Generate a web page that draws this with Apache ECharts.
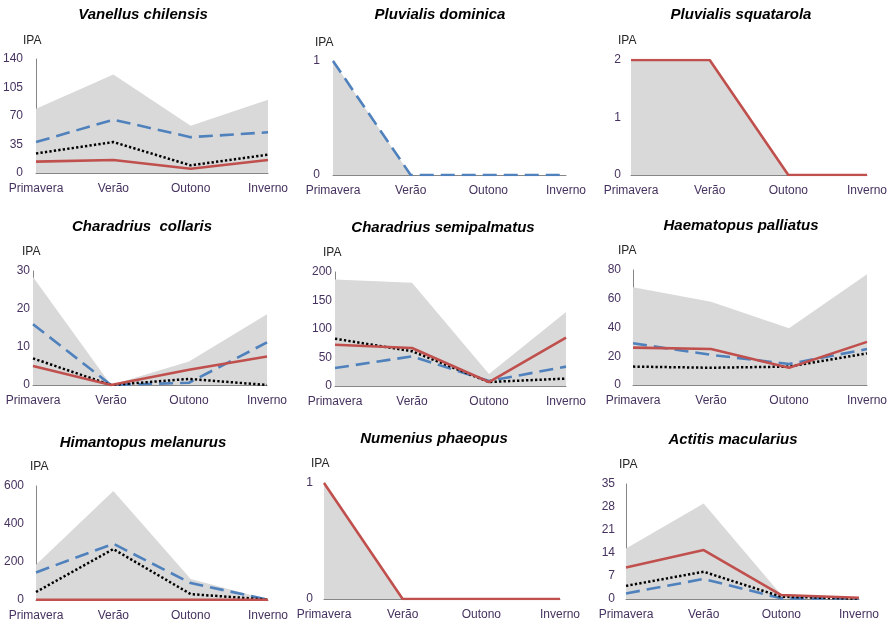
<!DOCTYPE html>
<html>
<head>
<meta charset="utf-8">
<script src="https://cdn.jsdelivr.net/npm/echarts@6/dist/echarts.min.js"></script>
<style>
html,body{margin:0;padding:0;background:#fff;}
#chart{width:891px;height:622px;}
</style>
</head>
<body>
<div id="chart"></div>
<script>
// ---- data ----
const categories = ['Primavera', 'Verão', 'Outono', 'Inverno'];

const titles = ['Vanellus chilensis', 'Pluvialis dominica', 'Pluvialis squatarola',
  'Charadrius  collaris', 'Charadrius semipalmatus', 'Haematopus palliatus',
  'Himantopus melanurus', 'Numenius phaeopus', 'Actitis macularius'];

// grey envelope (area)
const areaVanellus = [79, 121, 58, 90];
const areaDominica = [1, 0, 0, 0];
const areaSquatarola = [2, 2, 0, 0];
const areaCollaris = [28.4, 0, 6.2, 18.6];
const areaSemipalmatus = [187, 181, 21, 130];
const areaHaematopus = [68, 58, 39.5, 77];
const areaHimantopus = [185, 574, 110, 2];
const areaNumenius = [1, 0, 0, 0];
const areaActitis = [15.4, 29.1, 1.2, 0.4];

// blue dashed
const blueVanellus = [38, 65.5, 44, 50];
const blueDominica = [1, 0, 0, 0];
const blueSquatarola = null;
const blueCollaris = [16, 0, 0.6, 11.2];
const blueSemipalmatus = [31.5, 52, 8.8, 34];
const blueHaematopus = [29, 21, 14.6, 25];
const blueHimantopus = [145, 296, 89, 2];
const blueNumenius = null;
const blueActitis = [1.7, 6.1, 0.2, 0.2];

// black dotted
const blackVanellus = [24, 38, 9.4, 22.5];
const blackDominica = null;
const blackSquatarola = null;
const blackCollaris = [7, 0, 1.6, 0];
const blackSemipalmatus = [83, 61, 7, 13];
const blackHaematopus = [12.8, 12, 12.8, 22];
const blackHimantopus = [42, 268, 31, 2];
const blackNumenius = null;
const blackActitis = [4, 8.3, 0.7, 0.1];

// red solid
const redVanellus = [14, 16, 5.3, 16];
const redDominica = null;
const redSquatarola = [2, 2, 0, 0];
const redCollaris = [5, 0, 4, 7.5];
const redSemipalmatus = [72.5, 66.7, 7, 85];
const redHaematopus = [26, 25, 12, 30];
const redHimantopus = [1, 1, 1, 1];
const redNumenius = [1, 0, 0, 0];
const redActitis = [9.6, 14.9, 1.2, 0.4];

// y-axis scales (max, interval)
const yMax = [140, 1, 2, 30, 200, 80, 600, 1, 35];
const yInterval = [35, 1, 1, 10, 50, 20, 200, 1, 7];

const areas = [areaVanellus, areaDominica, areaSquatarola, areaCollaris, areaSemipalmatus, areaHaematopus, areaHimantopus, areaNumenius, areaActitis];
const blues = [blueVanellus, blueDominica, blueSquatarola, blueCollaris, blueSemipalmatus, blueHaematopus, blueHimantopus, blueNumenius, blueActitis];
const blacks = [blackVanellus, blackDominica, blackSquatarola, blackCollaris, blackSemipalmatus, blackHaematopus, blackHimantopus, blackNumenius, blackActitis];
const reds = [redVanellus, redDominica, redSquatarola, redCollaris, redSemipalmatus, redHaematopus, redHimantopus, redNumenius, redActitis];

// ---- layout ----
const grids = [
  {left: 36, top: 59, width: 232, height: 114},
  {left: 333, top: 61, width: 233, height: 114},
  {left: 631, top: 60, width: 236, height: 115},
  {left: 33, top: 271, width: 234, height: 114},
  {left: 335, top: 272, width: 231, height: 114},
  {left: 633, top: 270, width: 234, height: 115},
  {left: 36, top: 486, width: 232, height: 114},
  {left: 324, top: 483, width: 236, height: 116},
  {left: 626, top: 484, width: 233, height: 115}
];
const yLabelMargin = [13, 13, 10, 3, 3, 12, 12, 11, 11];
const titlePos = [[143, 15], [440, 15], [741, 15], [142, 227], [443, 228], [741, 226], [143, 443], [434, 439], [733, 440]];
const ipaPos = [[23, 41], [315, 43], [618, 41], [22, 252], [323, 253], [618, 251], [30, 467], [311, 464], [619, 465]];

const FONT = '"Liberation Sans", Arial, sans-serif';
const LABEL_COLOR = '#46325f';
const AXIS_COLOR = '#868686';

const option = {
  animation: false,
  backgroundColor: '#ffffff',
  grid: [], xAxis: [], yAxis: [], series: [], graphic: []
};

for (let i = 0; i < 9; i++) {
  option.grid.push(Object.assign({containLabel: false}, grids[i]));
  option.xAxis.push({
    type: 'category', gridIndex: i, data: categories, boundaryGap: false,
    axisLine: {show: true, lineStyle: {color: AXIS_COLOR, width: 1}},
    axisTick: {show: false},
    axisLabel: {color: LABEL_COLOR, fontFamily: FONT, fontSize: 12, margin: 10, interval: 0},
    splitLine: {show: false}
  });
  option.yAxis.push({
    type: 'value', gridIndex: i, min: 0, max: yMax[i], interval: yInterval[i],
    axisLine: {show: true, lineStyle: {color: AXIS_COLOR, width: 1}},
    axisTick: {show: false},
    axisLabel: {color: LABEL_COLOR, fontFamily: FONT, fontSize: 12, margin: yLabelMargin[i]},
    splitLine: {show: false}
  });
  option.series.push({
    type: 'line', xAxisIndex: i, yAxisIndex: i, data: areas[i], symbol: 'none',
    lineStyle: {width: 0, opacity: 0}, areaStyle: {color: '#d9d9d9', opacity: 1}, z: 1, silent: true
  });
  if (blues[i]) option.series.push({
    type: 'line', xAxisIndex: i, yAxisIndex: i, data: blues[i], symbol: 'none', z: 3,
    lineStyle: {color: '#4f81bd', width: 2.6, type: [14, 7]}
  });
  if (blacks[i]) option.series.push({
    type: 'line', xAxisIndex: i, yAxisIndex: i, data: blacks[i], symbol: 'none', z: 3,
    lineStyle: {color: '#000000', width: 2.5, type: [2.3, 2.2]}
  });
  if (reds[i]) option.series.push({
    type: 'line', xAxisIndex: i, yAxisIndex: i, data: reds[i], symbol: 'none', z: 3,
    lineStyle: {color: '#c0504d', width: 2.6}
  });
  option.graphic.push({
    type: 'text', x: titlePos[i][0], y: titlePos[i][1],
    style: {text: titles[i], font: 'italic bold 15px ' + FONT, fill: '#000', align: 'center', verticalAlign: 'middle'}
  });
  option.graphic.push({
    type: 'text', x: ipaPos[i][0], y: ipaPos[i][1],
    style: {text: 'IPA', font: '12px ' + FONT, fill: '#262626', align: 'left', verticalAlign: 'middle'}
  });
}

const chart = echarts.init(document.getElementById('chart'));
chart.setOption(option);
</script>
</body>
</html>
